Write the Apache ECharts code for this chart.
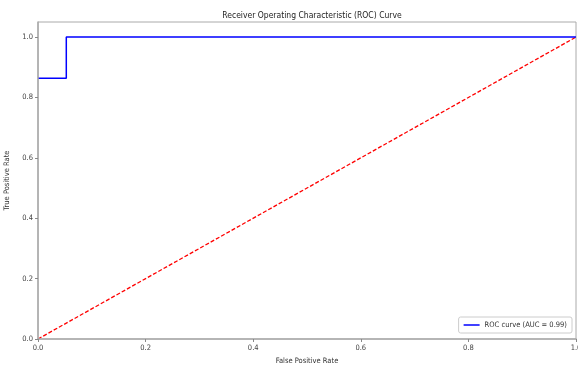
<!DOCTYPE html>
<html>
<head>
<meta charset="utf-8">
<script src="https://cdn.jsdelivr.net/npm/echarts@6/dist/echarts.min.js"></script>
<style>
  html, body { margin: 0; padding: 0; background: #fff; }
  #chart { width: 578px; height: 366px; }
</style>
</head>
<body>
<div id="chart"></div>
<script>
// visible ROC points (false positive rate, true positive rate)
var fprValues = [0, 0.0526, 0.0526, 1];
var tprValues = [0.8636, 0.8636, 1, 1];
var chanceLine = [[0, 0], [1, 1]];
var tickValues = [0, 0.2, 0.4, 0.6, 0.8, 1.0];
var legendLabel = "ROC curve (AUC = 0.99)";

var FONT = "'DejaVu Sans Condensed', 'DejaVu Sans', sans-serif";

var rocData = fprValues.map(function (x, i) {
  return [x, tprValues[i]];
});

var chart = echarts.init(document.getElementById("chart"));

function axisCommon(name) {
  return {
    type: "value",
    name: name,
    nameLocation: "middle",
    zlevel: 1, // spines drawn over the curve, like matplotlib
    nameTextStyle: { color: "#333", fontSize: 7.5, fontFamily: FONT },
    axisLine: { show: true, onZero: false, lineStyle: { color: "#aaa", width: 1.5 } },
    axisTick: { show: true, length: 3, lineStyle: { color: "#888" }, customValues: tickValues },
    axisLabel: {
      color: "#444",
      fontSize: 7.5,
      fontFamily: FONT,
      margin: 5,
      customValues: tickValues,
      formatter: function (v) { return v.toFixed(1); }
    },
    splitLine: { show: false }
  };
}

var xAxis = axisCommon("False Positive Rate");
xAxis.min = 0;
xAxis.max = 1;
xAxis.nameGap = 17;

var yAxis = axisCommon("True Positive Rate");
yAxis.min = 0;
yAxis.max = 1.05;
yAxis.nameGap = 23;

chart.setOption({
  animation: false,
  title: {
    text: "Receiver Operating Characteristic (ROC) Curve",
    left: 307,
    textAlign: "center",
    top: 6,
    textStyle: { color: "#222", fontSize: 8.5, fontWeight: "normal", fontFamily: FONT }
  },
  grid: {
    left: 38, right: 2, top: 22, bottom: 27,
    outerBoundsMode: "none",
    show: true, borderColor: "#aaa", borderWidth: 1
  },
  xAxis: xAxis,
  yAxis: yAxis,
  legend: {
    data: [legendLabel],
    right: 6,
    bottom: 33,
    orient: "vertical",
    backgroundColor: "#fff",
    borderColor: "#ccc",
    borderWidth: 1,
    borderRadius: 2,
    padding: [4, 5, 4, 5],
    itemWidth: 16,
    itemHeight: 1.5,
    itemGap: 4,
    icon: "rect",
    textStyle: { color: "#333", fontSize: 7.5, fontFamily: FONT }
  },
  series: [
    {
      name: legendLabel,
      type: "line",
      data: rocData,
      showSymbol: false,
      symbol: "none",
      lineStyle: { color: "#0000ff", width: 1.5 },
      itemStyle: { color: "#0000ff" },
      z: 3
    },
    {
      name: "chance",
      type: "line",
      data: chanceLine,
      showSymbol: false,
      symbol: "none",
      lineStyle: { color: "#ff0000", width: 1.3, type: [4, 2] },
      z: 2
    }
  ]
});
</script>
</body>
</html>
